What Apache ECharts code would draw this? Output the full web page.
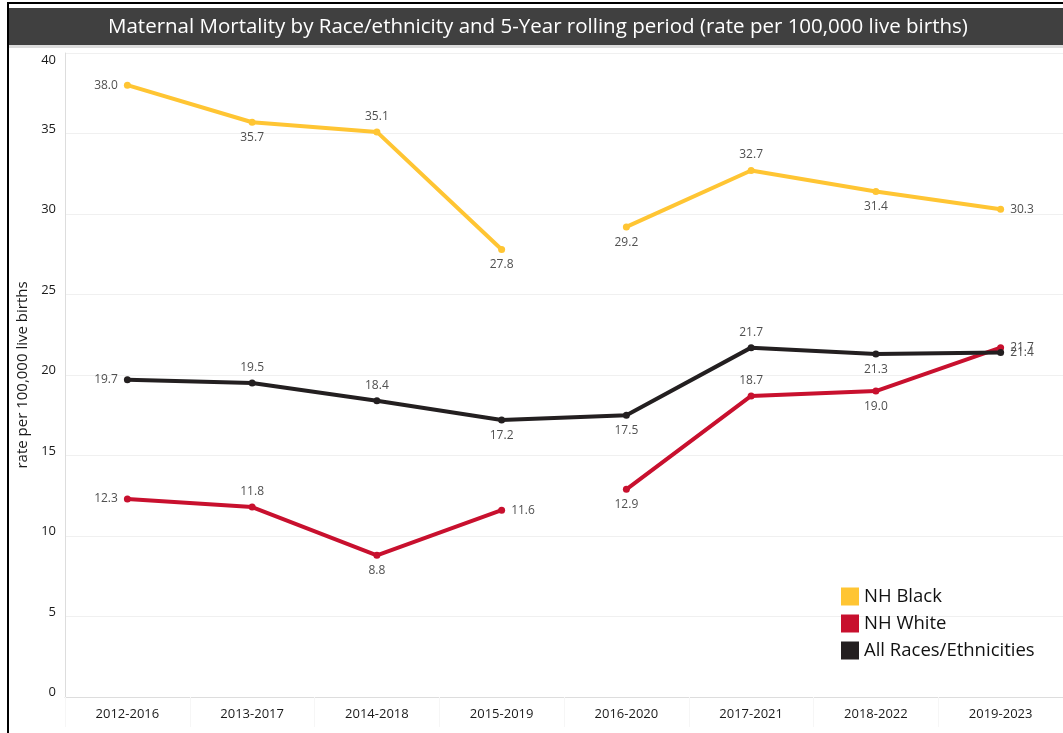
<!DOCTYPE html>
<html><head><meta charset="utf-8">
<script src="https://cdn.jsdelivr.net/npm/echarts@6/dist/echarts.min.js"></script>
<style>html,body{margin:0;padding:0;background:#fff}#c{width:1063px;height:733px}</style>
</head><body><div id="c"></div>
<script>
const categories = ['2012-2016','2013-2017','2014-2018','2015-2019','2016-2020','2017-2021','2018-2022','2019-2023'];
const nhBlack = [38.0, 35.7, 35.1, 27.8, 29.2, 32.7, 31.4, 30.3];
const nhWhite = [12.3, 11.8, 8.8, 11.6, 12.9, 18.7, 19.0, 21.7];
const allRaces = [19.7, 19.5, 18.4, 17.2, 17.5, 21.7, 21.3, 21.4];
const blackPos = ['left','bottom','top','bottom','bottom','top','bottom','right'];
const whitePos = ['left','top','bottom','right','bottom','top','bottom','right'];
const allPos = ['left','top','top','bottom','bottom','top','bottom','right'];
const yTicks = [0,5,10,15,20,25,30,35,40];

const C_BLACK = '#FFC533', C_WHITE = '#C8102E', C_ALL = '#231F20';

function seg(vals, pos, from, to) {
  return vals.map((v, i) => (i >= from && i <= to) ? {value: v, label: {position: pos[i]}} : null);
}
function mk(name, color, data) {
  return {
    name, type: 'line', data, color,
    symbol: 'circle', symbolSize: 7, connectNulls: false,
    lineStyle: {width: 4, color},
    itemStyle: {color},
    label: {show: true, formatter: p => p.value.toFixed(1), color: '#505050', fontSize: 12, fontFamily: 'Open Sans', distance: 6},
    emphasis: {disabled: true}
  };
}
const chart = echarts.init(document.getElementById('c'));
chart.setOption({
  animation: false,
  graphic: [
    {type: 'rect', shape: {x: 8, y: 3, width: 1070, height: 740}, style: {fill: 'none', stroke: '#000', lineWidth: 2}, z: 100},
    {type: 'rect', shape: {x: 9, y: 8, width: 1060, height: 37}, style: {fill: '#404040'}},
    {type: 'rect', shape: {x: 9, y: 45, width: 1060, height: 3}, style: {fill: '#dcdcdc'}},
    {type: 'text', left: 108, top: 17, style: {text: 'Maternal Mortality by Race/ethnicity and 5-Year rolling period (rate per 100,000 live births)', fill: '#fff', fontSize: 20.5, fontFamily: 'Open Sans'}}
  ],
  legend: {
    orient: 'vertical', left: 836, top: 582, itemWidth: 18, itemHeight: 18, itemGap: 8,
    icon: 'rect', textStyle: {fontSize: 18.5, color: '#111', fontFamily: 'Open Sans'},
    data: [{name: 'NH Black'}, {name: 'NH White'}, {name: 'All Races/Ethnicities'}]
  },
  grid: {left: 65, top: 53, width: 1008, height: 644, containLabel: false},
  xAxis: {
    type: 'category', data: categories, boundaryGap: true,
    axisLine: {lineStyle: {color: '#ddd'}},
    axisTick: {show: true, length: 30, lineStyle: {color: '#f6f6f6'}},
    axisLabel: {color: '#1a1a1a', fontSize: 13, fontFamily: 'Open Sans', margin: 11}
  },
  yAxis: {
    type: 'value', min: 0, max: 40, interval: 5,
    name: 'rate per 100,000 live births', nameLocation: 'middle', nameGap: 32, nameRotate: 90,
    nameTextStyle: {fontSize: 15, color: '#1a1a1a', fontFamily: 'Open Sans'},
    axisLine: {show: true, lineStyle: {color: '#ddd'}},
    axisTick: {show: false},
    splitLine: {lineStyle: {color: '#f0f0f0'}},
    axisLabel: {color: '#1a1a1a', fontSize: 13, fontFamily: 'Open Sans', margin: 9,
      formatter: v => !yTicks.includes(v) ? '' : (v === 40 ? '{t|' + v + '}' : '{n|' + v + '}'),
      rich: {
        t: {fontSize: 13, color: '#1a1a1a', fontFamily: 'Open Sans', padding: [14, 0, 0, 0]},
        n: {fontSize: 13, color: '#1a1a1a', fontFamily: 'Open Sans', padding: [0, 0, 9, 0]}
      }
    }
  },
  series: [
    mk('NH Black', C_BLACK, seg(nhBlack, blackPos, 0, 3)),
    mk('NH Black', C_BLACK, seg(nhBlack, blackPos, 4, 7)),
    mk('NH White', C_WHITE, seg(nhWhite, whitePos, 0, 3)),
    mk('NH White', C_WHITE, seg(nhWhite, whitePos, 4, 7)),
    mk('All Races/Ethnicities', C_ALL, seg(allRaces, allPos, 0, 7))
  ]
});
</script></body></html>
